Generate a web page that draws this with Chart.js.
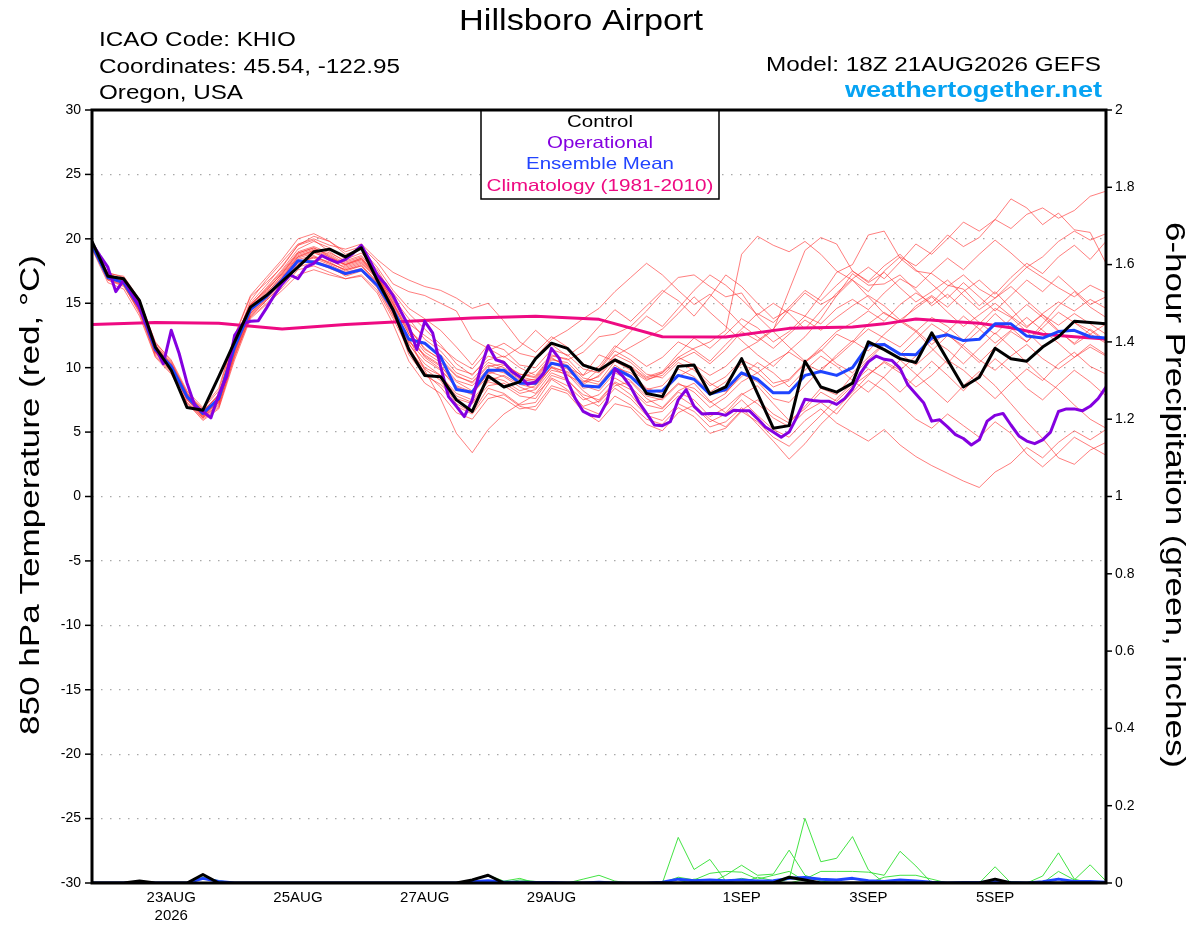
<!DOCTYPE html>
<html><head><meta charset="utf-8">
<script src="https://cdn.jsdelivr.net/npm/chart.js@4.4.1/dist/chart.umd.min.js"></script>
<style>html,body{margin:0;padding:0;background:#fff;}canvas{display:block;}</style>
</head><body>
<canvas id="c" width="1200" height="927"></canvas>
<script>
const FONT = '"Liberation Sans", Arial, Helvetica, sans-serif';

// forecast hours (6-hourly, from 18Z 21AUG2026)
const hours6 = [0,6,12,18,24,30,36,42,48,54,60,66,72,78,84,90,96,102,108,114,120,126,132,138,144,150,156,162,168,174,180,186,192,198,204,210,216,222,228,234,240,246,252,258,264,270,276,282,288,294,300,306,312,318,324,330,336,342,348,354,360,366,372,378,384];
// 3-hourly hours for the operational run
const hours3 = [0,3,6,9,12,15,18,21,24,27,30,33,36,39,42,45,48,51,54,57,60,63,66,69,72,75,78,81,84,87,90,93,96,99,102,105,108,111,114,117,120,123,126,129,132,135,138,141,144,147,150,153,156,159,162,165,168,171,174,177,180,183,186,189,192,195,198,201,204,207,210,213,216,219,222,225,228,231,234,237,240,243,246,249,252,255,258,261,264,267,270,273,276,279,282,285,288,291,294,297,300,303,306,309,312,315,318,321,324,327,330,333,336,339,342,345,348,351,354,357,360,363,366,369,372,375,378,381,384];

const tickHours = [30,78,126,174,246,294,342];
const tickLabels = [['23AUG','2026'],'25AUG','27AUG','29AUG','1SEP','3SEP','5SEP'];

const control = [19.8,17.1,16.9,15.2,11.6,9.8,6.9,6.7,9.3,12.0,14.7,15.6,16.7,17.8,19.0,19.2,18.6,19.3,16.8,14.5,11.4,9.4,9.3,7.5,6.6,9.35,8.5,8.9,10.7,11.9,11.5,10.2,9.8,10.6,10.0,8.0,7.75,10.1,10.2,7.95,8.5,10.7,8.0,5.3,5.5,10.5,8.5,8.1,8.8,12.0,11.4,10.7,10.4,12.7,10.6,8.5,9.25,11.5,10.7,10.5,11.6,12.4,13.6,13.5,13.4];

const ensMean = [19.5,17.0,16.6,14.7,11.4,10.1,7.75,6.45,7.6,11.6,14.5,15.5,16.8,18.3,18.2,17.8,17.3,17.6,16.4,14.5,12.2,11.9,10.85,8.3,8.1,9.8,9.8,8.8,8.8,10.35,10.1,8.6,8.5,9.95,9.3,8.15,8.2,9.4,9.1,7.95,8.3,9.6,9.1,8.05,8.05,9.4,9.7,9.4,10.0,11.75,11.8,11.05,11.0,12.3,12.55,12.1,12.2,13.4,13.4,12.45,12.3,12.8,12.9,12.4,12.3];

const operational = [19.65,18.7,17.8,15.9,16.8,15.8,14.7,13.2,11.6,10.3,12.9,11.1,8.8,7.0,6.6,6.1,7.9,9.3,12.5,13.4,13.6,13.65,14.6,15.6,16.5,17.2,16.9,17.8,18.1,18.7,18.4,18.15,18.4,18.9,19.5,18.4,17.2,16.5,15.6,14.35,13.2,11.4,13.6,12.7,10.1,7.75,7.0,6.2,7.5,9.8,11.7,10.6,10.4,9.7,9.3,8.7,8.9,9.55,11.5,10.7,9.0,7.6,6.6,6.3,6.2,7.35,9.9,9.35,8.5,7.35,6.45,5.55,5.5,5.8,7.5,8.3,7.0,6.4,6.45,6.45,6.3,6.7,6.65,6.65,6.05,5.4,5.0,4.6,5.0,6.2,7.55,7.45,7.4,7.4,7.15,7.6,8.35,9.55,10.45,10.9,10.65,10.55,9.95,8.65,7.95,7.25,5.85,5.95,5.4,4.8,4.5,4.0,4.4,5.85,6.3,6.45,5.55,4.7,4.3,4.1,4.4,5.0,6.6,6.8,6.8,6.65,7.0,7.6,8.5];

const climHours = [0,24,48,72,96,120,144,168,192,216,240,264,288,300,312,324,336,348,360,372,384];
const climatology = [13.35,13.5,13.45,13.0,13.35,13.6,13.85,14.0,13.75,12.4,12.38,13.05,13.15,13.4,13.78,13.6,13.45,13.1,12.6,12.4,12.23];

// ensemble member 850 hPa temperatures
const member01 = [19.6,17.4,17.0,15.2,12.0,10.5,8.0,6.8,8.2,12.4,15.5, 16.6,17.8,19.5,20.2,19.8,19.0,19.4,18.2,16.5,15.9, 15.6,15.0,14.4,12.2,11.5,10.8,11.6,12.9,11.8,10.9,11.8,13.2, 14.5,13.6,14.8,16.0,15.2,14.0,15.5,17.2,16.3,15.0,13.8,14.5,15.8,14.9,15.6,16.8, 15.9,17.5,18.6,17.9,19.0,20.3,19.4,20.1,21.5,20.8,21.9,22.4,21.6,22.2,23.3,23.7];
const member02 = [19.3,16.8,16.3,14.4,11.0,9.7,7.3,6.1,7.0,10.8,14.0, 15.2,16.5,18.0,18.6,18.1,17.6,18.0,16.6,14.2,12.0, 11.0,10.2,8.5,8.0,9.3,9.0,8.2,8.6,10.0,9.4,8.8,9.9, 11.5,12.8,14.0,13.2,14.6,16.0,17.2,16.4,15.3,14.1,15.0,14.2,13.0,14.4,15.8,16.9, 17.8,16.9,18.2,19.6,18.8,20.0,21.3,20.6,21.5,23.1,22.4,21.1,22.0,20.7,20.5,18.1];
const member03 = [19.7,17.2,16.9,15.0,11.8,10.4,8.1,6.6,7.9,12.0,14.9, 16.0,17.3,18.9,19.3,18.7,18.0,18.4,17.1,15.0,12.6, 10.8,9.9,8.4,7.9,9.6,10.2,9.5,9.3,10.8,10.0,9.4,11.0, 10.5,9.8,9.0,9.6,10.8,11.5,12.0,12.9,18.8,20.2,19.5,19.0,19.8,18.8,17.5,16.8, 15.5,14.2,13.6,12.8,11.5,10.3,11.8,12.9,14.2,13.1,12.0,13.4,14.8,15.9,14.7,13.9];
const member04 = [19.4,17.0,16.5,14.3,11.2,9.8,7.6,6.3,7.3,11.5,14.8, 16.2,17.6,19.2,19.8,19.3,18.4,18.9,17.6,15.6,13.0, 11.5,10.6,9.3,8.9,10.2,9.8,9.0,9.1,10.6,10.4,9.2,8.9, 10.5,10.0,9.1,9.4,10.6,11.2,10.3,11.4,12.8,12.1,13.0,14.5,14.0,15.6,17.4,18.0, 20.3,20.6,18.5,17.5,17.3,16.4,16.1,14.8,15.9,14.6,13.2,14.1,12.9,11.8,12.6,11.9];
const member05 = [19.2,16.6,16.1,14.0,10.8,9.5,7.2,6.0,6.9,10.9,13.9, 15.0,16.2,17.6,17.9,17.4,16.9,17.2,16.0,13.8,11.4, 9.9,9.0,7.2,6.5,8.4,8.0,7.1,7.3,9.1,8.3,7.0,7.4, 8.8,7.9,6.4,6.6,7.8,7.0,5.8,6.4,7.5,6.3,5.2,4.6,5.9,6.8,5.7,5.0, 4.3,5.2,4.0,3.1,2.4,1.8,1.2,0.7,1.9,2.6,3.8,3.0,4.2,5.1,4.4,5.2];
const member06 = [19.5,17.1,16.7,14.6,11.3,10.0,7.7,6.2,7.1,11.2,14.2, 15.4,16.6,18.1,18.3,17.9,17.1,17.5,16.2,14.0,11.8, 10.3,9.4,7.8,7.3,8.9,8.6,7.8,7.6,9.4,9.0,7.9,7.5, 8.9,8.3,7.1,6.8,8.1,7.5,6.2,6.9,8.0,7.2,6.1,5.4,6.6,7.3,6.4,7.9, 9.0,8.2,7.1,6.0,5.3,6.4,5.5,4.6,5.8,4.9,3.3,2.3,3.4,4.6,3.9,3.2];
const member07 = [19.8,17.3,16.8,15.0,11.7,10.2,7.9,6.7,7.8,11.8,14.6, 15.8,17.1,18.6,19.0,18.3,17.8,18.2,16.9,14.8,12.3, 9.8,7.6,4.9,3.4,5.2,6.4,7.2,7.9,9.2,8.6,7.5,7.9, 9.2,8.5,7.3,7.6,8.8,8.1,6.9,7.7,8.9,9.6,10.5,11.2,10.4,11.6,12.8,13.5, 14.4,13.6,14.9,15.8,15.0,16.3,17.2,16.1,15.4,16.6,17.8,17.0,16.2,15.5,16.4,15.8];
const member08 = [19.6,17.2,16.9,14.9,11.6,10.3,7.9,6.5,7.7,12.1,15.0, 16.4,17.9,19.5,19.9,19.0,18.2,18.6,17.4,15.8,14.2, 13.0,11.8,10.3,9.4,10.9,10.5,9.3,9.0,10.3,9.9,8.6,8.2, 9.6,9.0,7.8,7.5,8.7,8.4,7.3,8.0,9.5,8.9,7.6,7.3,8.6,9.9,10.8,11.9, 13.0,12.3,11.6,12.8,13.9,13.2,12.1,13.4,14.6,13.9,12.8,11.6,12.4,13.5,12.9,12.0];
const member09 = [19.4,16.9,16.6,14.6,11.4,10.0,7.6,6.4,7.5,11.9,15.2, 16.8,18.2,19.6,20.0,19.5,19.2,19.6,18.4,17.4,16.8, 16.3,16.0,15.4,14.6,15.0,13.6,12.0,11.2,12.4,11.6,10.3,9.8, 11.3,10.6,9.5,9.2,10.4,9.8,8.6,9.3,10.6,10.0,8.8,9.1,10.4,11.3,12.6,12.0, 13.4,14.3,13.5,14.8,15.6,14.7,15.9,16.8,15.7,17.0,18.1,17.3,18.6,19.5,18.4,19.8];
const member10 = [19.3,16.9,16.4,14.4,11.1,9.9,7.5,6.1,7.2,11.1,14.1, 15.3,16.8,18.2,18.5,18.0,17.4,17.7,16.5,14.4,11.0, 9.4,8.7,7.6,7.2,8.6,8.8,8.0,8.3,9.8,9.5,8.2,7.3, 8.6,8.9,7.6,6.9,8.2,8.8,7.4,6.5,7.9,8.6,7.2,5.9,6.8,8.1,7.4,8.6, 9.5,10.4,9.6,8.5,9.4,10.6,9.8,8.7,7.6,8.8,9.9,9.0,10.3,11.2,10.1,9.5];
const member11 = [19.7,17.3,17.1,15.3,11.9,10.6,8.2,6.9,8.4,12.5,15.6, 17.0,18.4,20.0,20.4,19.8,18.8,19.2,17.8,16.0,14.6, 13.8,12.9,11.6,10.2,11.8,11.4,10.2,10.0,11.4,11.0,9.9,9.6, 11.0,10.4,9.3,9.7,11.1,12.3,11.5,12.6,13.8,13.1,12.0,12.8,14.0,13.4,14.6,15.3, 14.5,15.8,16.9,16.2,17.4,18.5,17.6,18.8,19.9,18.9,17.8,18.6,19.8,20.6,19.9,20.4];
const member12 = [19.5,17.0,16.7,14.8,11.5,10.1,7.8,6.4,7.5,11.4,14.4, 15.6,17.0,18.4,18.7,18.1,17.6,17.9,16.7,14.9,12.6, 10.9,10.1,8.9,8.2,9.7,9.3,8.5,8.0,9.6,9.1,7.7,7.0, 8.4,7.6,6.3,5.9,7.2,6.6,5.4,5.8,6.9,5.6,4.3,2.9,4.1,5.6,6.8,8.1, 9.4,10.5,9.8,10.9,12.2,11.4,10.3,11.5,12.7,11.6,10.4,9.2,8.3,7.1,6.0,5.3];
const member13 = [19.6,17.1,16.5,14.5,11.3,9.9,7.7,6.3,7.4,11.3,14.3, 15.5,16.9,18.5,18.9,18.5,18.0,18.5,17.2,14.6,11.9, 10.0,9.4,8.0,7.5,9.0,9.4,8.7,8.4,10.1,9.6,8.4,8.6, 10.0,9.6,8.4,8.0,9.3,10.0,8.8,8.1,9.3,10.4,9.6,8.5,9.8,10.9,10.1,9.0, 8.1,9.3,10.6,9.5,8.4,7.3,8.6,9.7,8.6,7.2,5.8,4.5,3.0,2.5,3.6,4.2];
const member14 = [19.5,17.2,16.8,14.9,11.6,10.2,7.9,6.6,7.9,12.2,14.9, 16.1,17.5,19.0,19.4,18.9,18.3,18.7,17.3,15.2,13.4, 12.5,11.6,10.6,9.9,11.3,11.9,11.1,10.8,12.2,12.9,13.8,14.6, 15.9,17.0,18.1,17.2,16.0,14.9,15.7,14.6,13.3,12.4,11.5,12.6,13.7,12.9,13.9,14.8, 15.6,14.8,13.7,14.6,15.5,14.3,13.2,14.1,15.0,14.0,13.1,14.2,15.1,14.4,15.3,14.6];
const member15 = [19.4,16.8,16.4,14.2,10.9,9.6,7.3,5.9,6.8,10.6,13.8, 14.9,16.0,17.2,17.6,17.2,16.9,17.1,15.8,13.4,10.5, 8.8,8.0,6.5,6.0,7.6,7.9,7.0,6.7,8.4,8.0,6.6,5.8, 7.2,6.9,5.6,5.1,6.5,7.1,6.0,5.4,6.7,7.5,6.4,5.7,7.0,8.4,7.9,9.4, 10.6,11.8,11.0,12.2,13.4,12.6,11.5,10.4,11.6,12.8,12.0,13.1,14.3,13.5,12.6,13.4];
const member16 = [19.6,17.0,16.6,14.6,11.2,10.0,7.7,6.2,7.6,11.7,14.7, 15.9,17.4,18.9,19.3,18.6,17.9,18.3,17.0,15.4,13.8, 12.2,11.3,9.9,9.5,10.6,10.9,10.0,9.4,10.9,10.7,9.4,10.1, 11.7,11.0,10.1,10.8,12.0,11.4,10.5,11.8,13.0,14.2,13.5,14.7,16.0,15.2,16.4,17.5, 16.7,17.9,18.8,17.6,16.5,15.4,16.6,15.5,14.4,15.6,16.8,15.9,17.1,16.0,14.9,15.5];
const member17 = [19.5,17.1,16.6,14.7,11.5,10.2,7.8,6.5,7.7,11.8,14.6, 15.7,17.2,18.7,19.1,18.4,17.7,18.1,16.9,15.0,12.8, 11.2,10.4,9.0,8.6,9.9,9.6,8.8,8.7,10.0,9.7,8.9,9.3, 10.7,10.1,9.2,9.6,10.8,10.2,9.4,10.1,11.3,12.0,12.9,16.0,19.1,20.1,19.6,17.5, 16.6,17.4,16.2,15.1,15.9,16.8,15.6,14.5,15.4,16.3,15.2,14.1,13.3,14.2,13.4,12.6];
const member18 = [19.7,17.2,16.8,14.8,11.5,10.1,7.8,6.6,7.6,11.5,14.5, 15.6,17.0,18.6,19.1,18.6,18.0,18.4,17.0,15.1,12.9, 11.8,11.0,9.6,9.1,10.4,10.0,9.2,9.7,11.0,10.6,11.2,12.4, 12.6,13.2,14.4,15.8,17.0,17.2,16.3,15.5,15.8,14.0,12.8,11.6,10.5,11.4,10.3,9.6, 10.8,11.9,11.1,10.2,11.3,12.5,11.7,10.6,9.8,10.9,11.8,10.7,9.9,10.8,11.6,10.9];
const member19 = [19.4,17.0,16.6,14.5,11.3,10.0,7.6,6.3,7.4,11.3,14.2, 15.3,16.7,18.2,18.6,18.2,17.5,17.9,16.5,14.3,12.1, 10.6,9.8,8.6,8.1,9.5,9.9,9.1,8.9,10.4,10.0,8.7,9.4, 10.9,11.6,12.3,13.0,14.2,15.5,14.3,13.2,12.1,11.0,10.1,11.3,12.4,13.8,15.6,17.3, 16.4,16.5,17.2,16.0,14.8,15.7,14.6,13.5,12.6,13.8,14.9,13.9,12.8,11.9,13.0,12.1];
const member20 = [19.5,16.9,16.5,14.6,11.2,9.9,7.5,6.2,7.3,11.0,14.0, 15.2,16.4,17.8,18.2,17.7,17.2,17.6,16.3,14.1,11.6, 9.6,8.5,7.0,6.4,8.0,7.6,6.8,7.0,8.6,8.2,6.9,6.4, 7.8,7.1,6.0,5.6,6.9,6.2,4.9,5.3,6.6,5.8,4.6,3.9,5.1,6.3,7.6,8.8, 9.9,9.2,8.1,9.3,10.5,9.4,8.2,9.5,10.7,9.7,8.4,7.5,8.7,9.8,8.9,7.8];
const member21 = [19.6,17.1,16.8,14.9,11.7,10.3,8.0,6.6,7.9,11.9,14.8, 16.0,17.3,18.8,19.2,18.8,18.1,18.5,17.1,15.3,13.1, 11.4,10.7,9.4,8.8,10.1,10.3,9.5,9.2,10.7,10.2,9.0,8.7, 10.2,9.4,8.3,8.6,9.9,9.3,8.1,8.9,10.3,9.6,8.5,9.0,10.3,9.7,11.0,12.1, 11.3,12.6,13.7,12.9,11.8,12.8,14.0,13.0,11.9,12.9,13.9,12.9,11.9,10.8,11.8,11.0];
const members = [member01,member02,member03,member04,member05,member06,member07,member08,member09,member10,member11,member12,member13,member14,member15,member16,member17,member18,member19,member20,member21];

// 6-hour precipitation (inches)
const pcpControl = [0,0,0,0.005,0,0,0,0.022,0,0, 0,0,0,0,0,0,0,0,0,0, 0,0,0,0,0.008,0.02,0,0,0,0, 0,0,0,0,0,0,0,0,0,0, 0,0,0,0,0.015,0.008,0,0,0,0, 0,0,0,0,0,0,0,0.01,0,0, 0,0,0,0,0];
const pcpMean = [0,0,0,0.002,0,0,0,0.012,0.004,0, 0,0,0,0,0,0,0,0,0,0, 0,0,0,0,0.003,0.006,0.002,0.002,0.001,0.001, 0,0,0.002,0,0,0,0.002,0.01,0.006,0.008, 0.006,0.008,0.005,0.006,0.012,0.014,0.01,0.008,0.012,0.006, 0.004,0.008,0.005,0.002,0,0.001,0.001,0.004,0.001,0, 0.003,0.01,0.004,0.004,0.002];
const pcpMember1 = [0,0,0,0,0,0,0,0.015,0.006,0, 0,0,0,0,0,0,0,0,0,0, 0,0,0,0,0,0,0,0,0,0, 0,0,0,0,0,0,0,0.118,0.035,0.061, 0.005,0.012,0.005,0,0,0,0,0,0,0, 0,0,0,0,0,0,0,0.042,0,0, 0,0,0,0,0];
const pcpMember2 = [0,0,0,0,0,0,0,0,0,0, 0,0,0,0,0,0,0,0,0,0, 0,0,0,0,0.008,0.02,0.005,0.012,0,0, 0,0,0,0,0,0,0,0.015,0.008,0.025, 0.03,0.028,0.01,0.02,0.03,0.005,0,0,0,0, 0,0,0,0,0,0,0,0,0,0, 0,0,0,0,0];
const pcpMember3 = [0,0,0,0,0,0,0,0,0,0, 0,0,0,0,0,0,0,0,0,0, 0,0,0,0,0,0,0,0,0,0, 0,0.01,0.02,0.005,0,0,0,0,0,0, 0.02,0.046,0.02,0.023,0.085,0.02,0.005,0,0,0, 0,0,0,0,0,0,0,0,0,0, 0.018,0.078,0.01,0,0];
const pcpMember4 = [0,0,0,0,0,0,0,0,0,0, 0,0,0,0,0,0,0,0,0,0, 0,0,0,0,0,0,0,0,0,0, 0,0,0,0,0,0,0,0,0,0, 0,0,0,0,0.01,0.167,0.055,0.064,0.12,0.034, 0,0,0,0,0,0,0,0,0,0, 0,0,0,0,0];
const pcpMember5 = [0,0,0,0,0,0,0,0,0,0, 0,0,0,0,0,0,0,0,0,0, 0,0,0,0,0,0,0,0,0,0, 0,0,0,0,0,0,0,0,0,0, 0,0,0,0,0,0.01,0.03,0.03,0.03,0.028, 0.02,0.082,0.044,0,0,0,0,0,0,0, 0,0.03,0.008,0.047,0.005];
const pcpMember6 = [0,0,0,0,0,0,0,0,0,0, 0,0,0,0,0,0,0,0,0,0, 0,0,0,0,0,0,0,0.008,0.004,0, 0,0,0,0,0,0,0,0,0.01,0.006, 0,0,0.015,0.006,0,0,0,0,0,0, 0.015,0.02,0.02,0.01,0,0,0,0,0.004,0, 0,0.012,0,0,0];
const pcpMembers = [pcpMember1,pcpMember2,pcpMember3,pcpMember4,pcpMember5,pcpMember6];

const tempTicks = [-30,-25,-20,-15,-10,-5,0,5,10,15,20,25,30];
const pcpTicks = [0,0.2,0.4,0.6,0.8,1,1.2,1.4,1.6,1.8,2];

function pts(xs, ys){ return ys.map((v,k)=>({x:xs[k], y:v})); }

const datasets = [];
datasets.push({label:'Control', data:pts(hours6,control), borderColor:'#000000', borderWidth:3, order:1, yAxisID:'y'});
datasets.push({label:'Operational', data:pts(hours3,operational), borderColor:'#8400e0', borderWidth:3, order:2, yAxisID:'y'});
datasets.push({label:'Ensemble Mean', data:pts(hours6,ensMean), borderColor:'#1e44ff', borderWidth:3, order:3, yAxisID:'y'});
datasets.push({label:'Climatology', data:pts(climHours,climatology), borderColor:'#ee0a82', borderWidth:3, order:4, yAxisID:'y'});
members.forEach((m,k)=>datasets.push({label:'m'+k, data:pts(hours6,m), borderColor:'rgba(255,50,50,0.75)', borderWidth:0.85, order:20, yAxisID:'y'}));
datasets.push({label:'pcpControl', data:pts(hours6,pcpControl), borderColor:'#000000', borderWidth:3, order:0, yAxisID:'y1'});
datasets.push({label:'pcpMean', data:pts(hours6,pcpMean), borderColor:'#1e44ff', borderWidth:3, order:0.5, yAxisID:'y1'});
pcpMembers.forEach((m,k)=>datasets.push({label:'p'+k, data:pts(hours6,m), borderColor:'#2ee02e', borderWidth:0.9, order:10, yAxisID:'y1'}));

function fitText(ctx, s, x, y, font, color, align, targetW){
  ctx.save();
  ctx.font = font; ctx.fillStyle = color; ctx.textBaseline = 'alphabetic'; ctx.textAlign = 'left';
  const w = ctx.measureText(s).width;
  const sx = targetW / w;
  const x0 = align === 'left' ? x : (align === 'right' ? x - targetW : x - targetW/2);
  ctx.translate(x0, y); ctx.scale(sx, 1);
  ctx.fillText(s, 0, 0);
  ctx.restore();
}
function rotText(ctx, s, cx, cy, font, angle, targetL){
  ctx.save();
  ctx.font = font; ctx.fillStyle = '#000'; ctx.textBaseline = 'middle'; ctx.textAlign = 'center';
  const w = ctx.measureText(s).width;
  ctx.translate(cx, cy); ctx.rotate(angle); ctx.scale(targetL / w, 1);
  ctx.fillText(s, 0, 0);
  ctx.restore();
}

const deco = {
  id: 'deco',
  beforeDraw(chart){
    const ctx = chart.ctx;
    ctx.save(); ctx.fillStyle = '#fff'; ctx.fillRect(0,0,chart.width,chart.height); ctx.restore();
  },
  afterDatasetsDraw(chart){
    const ctx = chart.ctx, a = chart.chartArea;
    const ys = chart.scales.y, y1 = chart.scales.y1;
    ctx.save();
    ctx.strokeStyle = '#000'; ctx.lineWidth = 1.5;
    ctx.fillStyle = '#fff';
    ctx.beginPath(); ctx.rect(481, a.top, 238, 89); ctx.fill(); ctx.stroke();
    ctx.lineWidth = 3;
    ctx.strokeRect(a.left, a.top, a.right - a.left, a.bottom - a.top);
    ctx.lineWidth = 1.5;
    tempTicks.forEach(v=>{ const p = ys.getPixelForValue(v); ctx.beginPath(); ctx.moveTo(a.left-7,p); ctx.lineTo(a.left,p); ctx.stroke(); });
    pcpTicks.forEach(v=>{ const p = y1.getPixelForValue(v); ctx.beginPath(); ctx.moveTo(a.right,p); ctx.lineTo(a.right+6,p); ctx.stroke(); });
    ctx.restore();
    const lf = '16.5px ' + FONT;
    fitText(ctx,'Control',600,126.5,lf,'#000000','center',66);
    fitText(ctx,'Operational',600,147.5,lf,'#8400e0','center',106);
    fitText(ctx,'Ensemble Mean',600,169,lf,'#2244ff','center',148);
    fitText(ctx,'Climatology (1981-2010)',600,190.5,lf,'#ee0a82','center',227);
  },
  afterDraw(chart){
    const ctx = chart.ctx;
    fitText(ctx,'Hillsboro Airport',581,29.5,'30px ' + FONT,'#000','center',244);
    fitText(ctx,'ICAO Code: KHIO',99,46,'20px ' + FONT,'#000','left',197);
    fitText(ctx,'Coordinates: 45.54, -122.95',99,72.5,'20px ' + FONT,'#000','left',301);
    fitText(ctx,'Oregon, USA',99,99,'20px ' + FONT,'#000','left',144);
    fitText(ctx,'Model: 18Z 21AUG2026 GEFS',1101,70.5,'20px ' + FONT,'#000','right',335);
    fitText(ctx,'weathertogether.net',1102,97,'bold 22px ' + FONT,'#06a3f3','right',257);
    rotText(ctx,'850 hPa Temperature (red, °C)',32,495,'27px ' + FONT,-Math.PI/2,480);
    rotText(ctx,'6-hour Precipitation (green, inches)',1173,495,'27px ' + FONT,Math.PI/2,546);
  }
};

new Chart(document.getElementById('c'), {
  type: 'line',
  data: { datasets },
  options: {
    responsive: false, animation: false, devicePixelRatio: 1,
    layout: { padding: { top: 110, left: 0, right: 0, bottom: 0 } },
    elements: { point: { radius: 0 }, line: { tension: 0, borderJoinStyle: 'round', fill: false } },
    plugins: { legend: { display: false }, tooltip: { enabled: false }, title: { display: false } },
    scales: {
      x: {
        type: 'linear', min: 0, max: 384, position: 'bottom',
        grid: { display: false, drawTicks: false }, border: { display: false },
        afterBuildTicks: s => { s.ticks = tickHours.map(v => ({ value: v })); },
        afterFit: s => { s.height = 44; },
        ticks: { autoSkip: false, maxRotation: 0, padding: 6, color: '#000', font: { family: FONT, size: 15 },
          callback: v => { const k = tickHours.indexOf(v); return k < 0 ? '' : tickLabels[k]; } }
      },
      y: {
        type: 'linear', position: 'left', min: -30, max: 30,
        afterBuildTicks: s => { s.ticks = tempTicks.map(v => ({ value: v })); },
        afterFit: s => { s.width = 92; },
        grid: { drawTicks: false, lineWidth: 1.2, color: c => (c.tick && Math.abs(c.tick.value) === 30) ? 'rgba(0,0,0,0)' : '#a8a8a8' },
        border: { display: false, dash: [1.5, 7.5] },
        ticks: { padding: 11, color: '#000', font: { family: FONT, size: 14 }, callback: v => String(v) }
      },
      y1: {
        type: 'linear', position: 'right', min: 0, max: 2,
        afterBuildTicks: s => { s.ticks = pcpTicks.map(v => ({ value: v })); },
        afterFit: s => { s.width = 94; },
        grid: { display: false, drawTicks: false }, border: { display: false },
        ticks: { padding: 9, color: '#000', font: { family: FONT, size: 14 }, callback: v => String(Number(v.toFixed(1))) }
      }
    }
  },
  plugins: [deco]
});
</script>
</body></html>
